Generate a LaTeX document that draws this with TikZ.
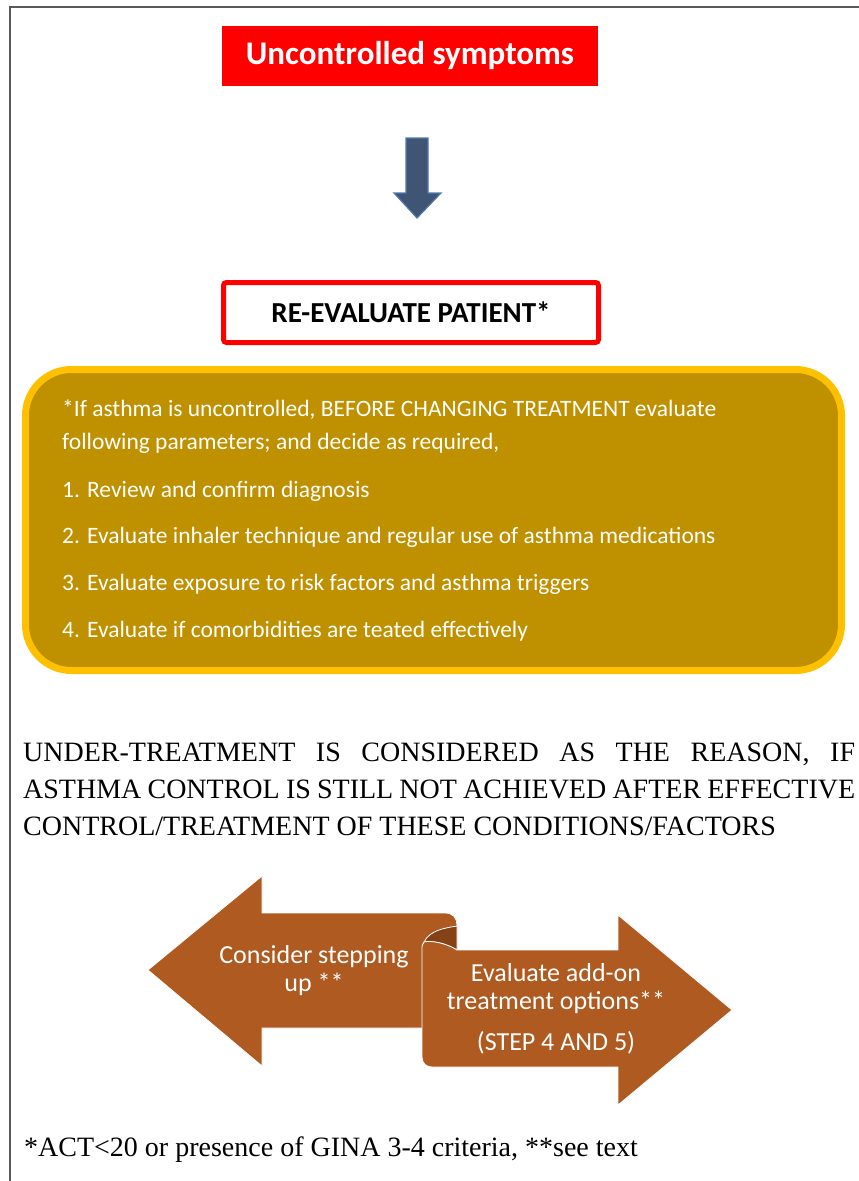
\documentclass[tikz,border=0pt]{standalone}
\usepackage{fontspec}
\setmainfont{Liberation Serif}
\newfontfamily\carlitofont{Carlito}
\begin{document}
\begin{tikzpicture}[x=1pt,y=-1pt,
  frameline/.style={draw=black!65,line width=1.6pt},
  redtitle/.style={fill=red,minimum width=376pt,minimum height=60pt,inner sep=0pt,text=white,font=\carlitofont\bfseries\fontsize{33}{37}\selectfont},
  evalbox/.style={draw=red,line width=5pt,rounded corners=3pt,fill=white,minimum width=375pt,minimum height=60pt,inner sep=0pt,font=\carlitofont\bfseries\fontsize{29}{33}\selectfont},
  infobox/.style={draw={rgb,255:red,255;green,192;blue,0},fill={rgb,255:red,191;green,144;blue,0},line width=7pt,rounded corners=46pt},
  infotext/.style={anchor=west,text=white,inner sep=0pt,font=\carlitofont\fontsize{23.5}{30}\selectfont},
  bigtext/.style={anchor=north west,inner sep=0pt,align=left,font=\fontsize{28}{37}\selectfont},
  brownarrow/.style={fill={rgb,255:red,174;green,90;blue,33},draw=white,line width=0.8pt},
  rolldark/.style={fill={rgb,255:red,133;green,66;blue,22},draw=white,line width=0.8pt},
  arrowtext/.style={text=white,align=center,inner sep=0pt,font=\carlitofont\fontsize{26}{28}\selectfont},
  downarrow/.style={fill={rgb,255:red,64;green,84;blue,116},draw={rgb,255:red,79;green,122;blue,180},line width=1.2pt}
]
\useasboundingbox (0,0) rectangle (859,1181);
% frame
\draw[frameline] (10,1181) -- (10,7) -- (859,7);
% title
\node[redtitle] (title) at (410,56) {Uncontrolled symptoms};
% down arrow
\draw[downarrow] (406,138) -- (428,138) -- (428,193) -- (441,193) -- (417,218) -- (394,193) -- (406,193) -- cycle;
% re-evaluate
\node[evalbox] (eval) at (411,312.5) {RE-EVALUATE PATIENT*};
% info box
\draw[infobox] (25.5,369.5) rectangle (841.5,670.5);
\node[infotext] (l1) at (62,410) {*If asthma is uncontrolled, BEFORE CHANGING TREATMENT evaluate};
\node[infotext] (l2) at (62,443) {following parameters; and decide as required,};
\node[infotext] (l3) at (62,491) {1. Review and confirm diagnosis};
\node[infotext] (l4) at (62,537) {2. Evaluate inhaler technique and regular use of asthma medications};
\node[infotext] (l5) at (62,584) {3. Evaluate exposure to risk factors and asthma triggers};
\node[infotext] (l6) at (62,631) {4. Evaluate if comorbidities are teated effectively};
% big text
\node[bigtext] (under) at (23,743) {\makebox[832pt][s]{UNDER-TREATMENT IS CONSIDERED AS THE REASON, IF}\\
\makebox[832pt][s]{ASTHMA CONTROL IS STILL NOT ACHIEVED AFTER EFFECTIVE}\\
CONTROL/TREATMENT OF THESE CONDITIONS/FACTORS};
% left arrow
\draw[brownarrow] (148,970) -- (262,876) -- (262,913) -- (445,913) .. controls (453,913) and (457,918) .. (457,925) -- (457,1028) -- (262,1028) -- (262,1066) -- cycle;
% roll interior
\draw[rolldark] (457,926) .. controls (445,928) and (430,930) .. (424,942) .. controls (432,940) and (448,944) .. (457,950) -- cycle;
% right arrow
\draw[brownarrow] (457,950) .. controls (448,944) and (432,940) .. (424,942) .. controls (422,944) and (422,946) .. (422,950) -- (422,1057) .. controls (422,1063) and (426,1067) .. (432,1067) -- (618,1067) -- (618,1105) -- (732,1010) -- (618,915) -- (618,950) -- cycle;
\node[arrowtext] (up) at (314,971) {Consider stepping\\up **};
\node[arrowtext] (addon) at (556,989) {Evaluate add-on\\treatment options**};
\node[arrowtext] (step) at (556,1043) {(STEP 4 AND 5)};
% footer
\node[anchor=west,inner sep=0pt,font=\fontsize{28}{32}\selectfont] (foot) at (24,1150) {*ACT<20 or presence of GINA 3-4 criteria, **see text};
\end{tikzpicture}
\end{document}
